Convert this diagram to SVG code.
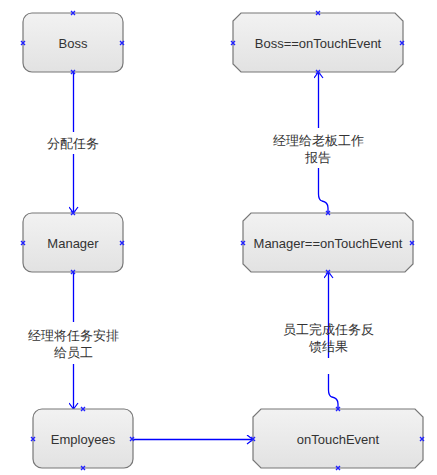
<svg xmlns="http://www.w3.org/2000/svg" width="437" height="475" viewBox="0 0 437 475">
<style>
.n{fill:url(#g);stroke:#777;stroke-width:1.2}
.t{font-family:"Liberation Sans",Arial,sans-serif;font-size:13px;fill:#333;text-anchor:middle;dominant-baseline:central}
.c{fill:none;stroke:#0000ff;stroke-width:1.3}
.m{fill:none;stroke:#2222ff;stroke-width:1.4}
</style>
<defs>
<linearGradient id="g" x1="0" y1="0" x2="0" y2="1">
<stop offset="0" stop-color="#f2f2f2"/>
<stop offset="1" stop-color="#e2e2e2"/>
</linearGradient>
<marker id="a" viewBox="-7 -5 8 10" refX="0" refY="0" markerWidth="8" markerHeight="10" markerUnits="userSpaceOnUse" orient="auto">
<path d="M-6,-4.5 L0,0 L-6,4.5" fill="none" stroke="#0000ff" stroke-width="1.2"/>
</marker>
<path id="x" d="M-2,-2 L2,2 M-2,2 L2,-2" class="m"/>
</defs>
<g id="connectors">
<path class="c" d="M73.5,72 V132 M73.5,154 V213" marker-end="url(#a)"/>
<path class="c" d="M73.5,272 V322 M73.5,364 V409" marker-end="url(#a)"/>
<path class="c" d="M133,439.5 H253" marker-end="url(#a)"/>
<path class="c" d="M338,409 V404 Q338,398 332,397 Q328.5,396 328.5,390 V374 M328.5,358 V272" marker-end="url(#a)"/>
<path class="c" d="M328,213 V208 Q328,202 322,201 Q318.5,200 318.5,194 V168 M318.5,128 V72" marker-end="url(#a)"/>
<g class="t">
<text x="73" y="143">分配任务</text>
<text x="73" y="335">经理将任务安排</text>
<text x="73" y="352">给员工</text>
<text x="328" y="329">员工完成任务反</text>
<text x="328" y="346">馈结果</text>
<text x="318" y="140">经理给老板工作</text>
<text x="318" y="157">报告</text>
</g>
</g>
<g id="boss">
<rect class="n" x="23" y="13" width="100" height="59" rx="9"/>
<text class="t" x="73" y="43">Boss</text>
<use href="#x" x="73" y="13"/><use href="#x" x="23" y="43"/><use href="#x" x="122" y="43"/><use href="#x" x="73" y="72"/>
</g>
<g id="boss-event">
<path class="n" d="M241,13 H395 L403,21 V64 L395,72 H241 L233,64 V21 Z"/>
<text class="t" x="318" y="43">Boss==onTouchEvent</text>
<use href="#x" x="318" y="13"/><use href="#x" x="233" y="43"/><use href="#x" x="402" y="43"/><use href="#x" x="318" y="72"/>
</g>
<g id="manager">
<rect class="n" x="23" y="213" width="100" height="59" rx="9"/>
<text class="t" x="73" y="243">Manager</text>
<use href="#x" x="73" y="213"/><use href="#x" x="23" y="243"/><use href="#x" x="122" y="243"/><use href="#x" x="73" y="272"/>
</g>
<g id="manager-event">
<path class="n" d="M251,213 H405 L413,221 V264 L405,272 H251 L243,264 V221 Z"/>
<text class="t" x="328" y="243">Manager==onTouchEvent</text>
<use href="#x" x="328" y="213"/><use href="#x" x="243" y="243"/><use href="#x" x="412" y="243"/><use href="#x" x="328" y="272"/>
</g>
<g id="employees">
<rect class="n" x="33" y="409" width="100" height="59" rx="9"/>
<text class="t" x="83" y="439">Employees</text>
<use href="#x" x="83" y="409"/><use href="#x" x="33" y="439"/><use href="#x" x="132" y="439"/><use href="#x" x="83" y="468"/>
</g>
<g id="ontouchevent">
<path class="n" d="M261,409 H415 L423,417 V460 L415,468 H261 L253,460 V417 Z"/>
<text class="t" x="338" y="439">onTouchEvent</text>
<use href="#x" x="338" y="409"/><use href="#x" x="253" y="439"/><use href="#x" x="422" y="439"/><use href="#x" x="338" y="468"/>
</g>
</svg>
